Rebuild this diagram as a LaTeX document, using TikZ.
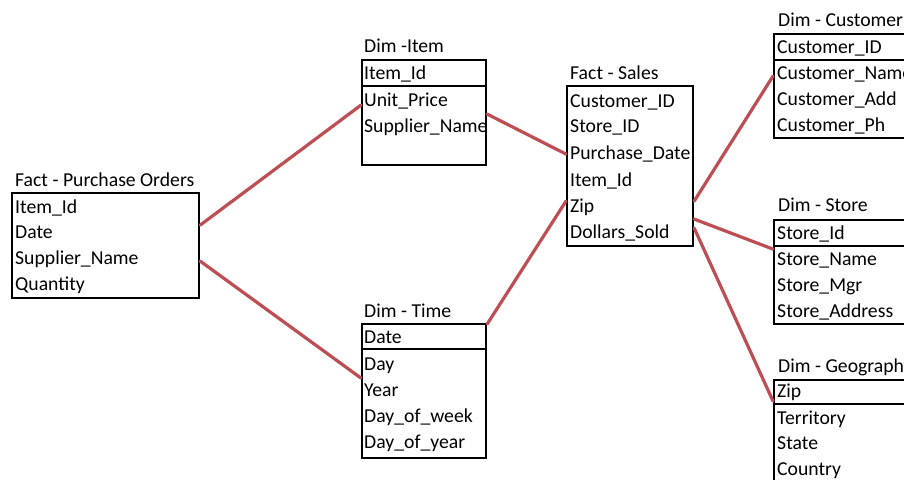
\documentclass[tikz,border=0pt]{standalone}
\usepackage{fontspec}
\setmainfont{Carlito}
\begin{document}
\begin{tikzpicture}[x=1pt,y=-1pt,
  tbl/.style={draw=black,line width=2.2pt,anchor=north west,inner sep=0pt},
  sep/.style={draw=black,line width=1.6pt},
  row/.style={anchor=base west,inner sep=0pt,font=\fontsize{19.7}{22}\selectfont},
  ttl/.style={anchor=base west,inner sep=0pt,font=\fontsize{19.7}{22}\selectfont},
  link/.style={draw={rgb,255:red,188;green,78;blue,84},line width=3.2pt,line cap=round}]
\useasboundingbox (0,0) rectangle (904,479);
\clip (0,0) rectangle (904,479);
\fill[white] (0,0) rectangle (904,479);

% ---- Fact - Purchase Orders
\node[tbl,minimum width=187pt,minimum height=105pt] (po) at (11,192) {};
\node[ttl] (pot) at (15,186) {Fact - Purchase Orders};
\node[row] (po1) at (15,213) {Item\_Id};
\node[row] (po2) at (15,238) {Date};
\node[row] (po3) at (15,264) {Supplier\_Name};
\node[row] (po4) at (15,290) {Quantity};

% ---- Dim - Item
\node[tbl,minimum width=124pt,minimum height=105pt] (item) at (361,59) {};
\draw[sep] (item.west |- 0,86) -- (item.east |- 0,86);
\node[ttl] (itemt) at (364,52) {Dim -Item};
\node[row] (item1) at (364,79) {Item\_Id};
\node[row] (item2) at (364,106) {Unit\_Price};
\node[row] (item3) at (364,132) {Supplier\_Name};

% ---- Dim - Time
\node[tbl,minimum width=124pt,minimum height=134pt] (time) at (361,323) {};
\draw[sep] (time.west |- 0,349) -- (time.east |- 0,349);
\node[ttl] (timet) at (364,317) {Dim - Time};
\node[row] (time1) at (364,343) {Date};
\node[row] (time2) at (364,370) {Day};
\node[row] (time3) at (364,396) {Year};
\node[row] (time4) at (364,422) {Day\_of\_week};
\node[row] (time5) at (364,448) {Day\_of\_year};

% ---- Fact - Sales
\node[tbl,minimum width=126pt,minimum height=160pt] (sales) at (566,85) {};
\node[ttl] (salest) at (570,79) {Fact - Sales};
\node[row] (sales1) at (570,107) {Customer\_ID};
\node[row] (sales2) at (570,132) {Store\_ID};
\node[row] (sales3) at (570,159) {Purchase\_Date};
\node[row] (sales4) at (570,186) {Item\_Id};
\node[row] (sales5) at (570,212) {Zip};
\node[row] (sales6) at (570,238) {Dollars\_Sold};

% ---- Dim - Customer
\node[tbl,minimum width=150pt,minimum height=104pt] (cust) at (773,33) {};
\draw[sep] (cust.west |- 0,60) -- (cust.east |- 0,60);
\node[ttl] (custt) at (778,26) {Dim - Customer};
\node[row] (cust1) at (777,53) {Customer\_ID};
\node[row] (cust2) at (777,79) {Customer\_Name};
\node[row] (cust3) at (777,105) {Customer\_Add};
\node[row] (cust4) at (777,131) {Customer\_Ph};

% ---- Dim - Store
\node[tbl,minimum width=150pt,minimum height=104pt] (store) at (773,219) {};
\draw[sep] (store.west |- 0,246) -- (store.east |- 0,246);
\node[ttl] (storet) at (778,211) {Dim - Store};
\node[row] (store1) at (777,239) {Store\_Id};
\node[row] (store2) at (777,265) {Store\_Name};
\node[row] (store3) at (777,291) {Store\_Mgr};
\node[row] (store4) at (777,317) {Store\_Address};

% ---- Dim - Geography
\node[tbl,minimum width=150pt,minimum height=111pt] (geo) at (773,379) {};
\draw[sep] (geo.west |- 0,404) -- (geo.east |- 0,404);
\node[ttl] (geot) at (778,372) {Dim - Geography};
\node[row] (geo1) at (777,397) {Zip};
\node[row] (geo2) at (777,424) {Territory};
\node[row] (geo3) at (777,449) {State};
\node[row] (geo4) at (777,475) {Country};

% ---- relationships
\draw[link] ([yshift=20.5pt]po.east) -- ([yshift=7.5pt]item.west);
\draw[link] ([yshift=-15.5pt]po.east) -- ([yshift=13pt]time.west);
\draw[link] ([yshift=-1.5pt]item.east) -- ([yshift=12pt]sales.west);
\draw[link] ([yshift=-1pt]time.north east) -- ([yshift=-35pt]sales.west);
\draw[link] ([yshift=-35pt]sales.east) -- ([yshift=10pt]cust.west);
\draw[link] ([yshift=-53pt]sales.east) -- ([yshift=23pt]store.west);
\draw[link] ([yshift=-62pt]sales.east) -- ([yshift=34.5pt]geo.west);
\end{tikzpicture}
\end{document}
